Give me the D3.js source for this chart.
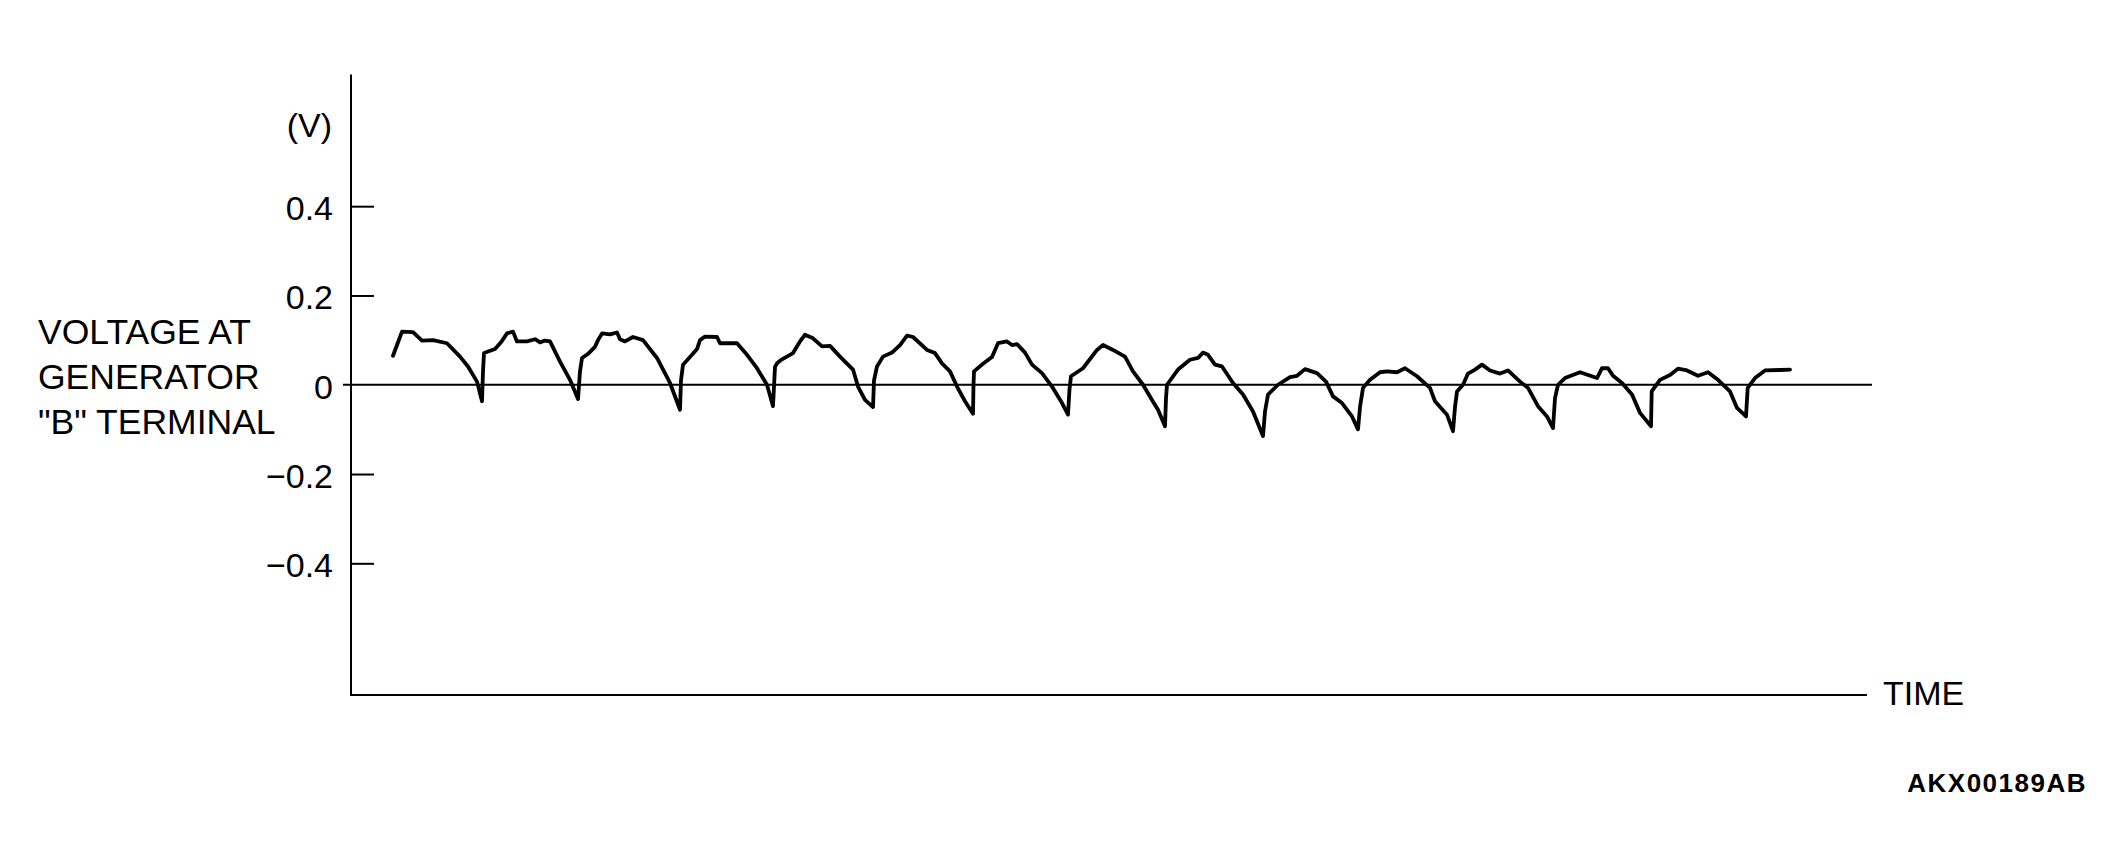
<!DOCTYPE html>
<html>
<head>
<meta charset="utf-8">
<script src="https://cdn.jsdelivr.net/npm/d3@7"></script>
<style>
  html, body { margin: 0; padding: 0; background: #fff; }
  svg { display: block; }
  text { font-family: "Liberation Sans", Arial, Helvetica, sans-serif; fill: #000; }
</style>
</head>
<body>
<svg id="chart" width="2124" height="867"></svg>
<script>
// ---- Data (time in arbitrary units, voltage in V) ----
const timeValues = [
  42,51,62,71,82,96,109,117,126,131,
  132,133,144,150,156,162,166,176,184,189,194,199,209,219,227,
  229,231,237,244,247,251,259,266,269,274,282,292,306,319,329,
  330,332,341,346,349,354,366,369,386,396,406,416,422,
  424,426,431,442,449,454,462,471,479,489,502,507,514,522,
  523,526,532,541,549,556,562,576,584,591,599,606,614,622,
  622.5,623,632,641,647,656,661,666,674,681,691,701,711,717,
  718.5,720,732,746,752,762,774,782,792,801,807,814,
  815,816,827,839,847,852,857,864,871,882,892,902,912,
  914,917,927,939,946,954,966,975,982,991,1001,1007,
  1009,1012,1019,1029,1036,1046,1054,1066,1079,1084,1096,1102,
  1104,1106,1112,1117,1124,1131,1139,1149,1157,1169,1177,1187,1196,1202,
  1204,1207,1214,1229,1246,1251,1257,1262,1271,1281,1289,1300,
  1300.7,1309,1319,1327,1336,1347,1357,1367,1379,1386,1395,
  1396.7,1404,1414,1429,1439
];
const voltageValues = [
  0.065,0.119,0.118,0.099,0.100,0.093,0.063,0.041,0.007,-0.037,
  0.030,0.071,0.080,0.095,0.115,0.119,0.097,0.097,0.102,0.095,0.099,0.097,0.052,0.011,-0.032,
  0.030,0.060,0.069,0.085,0.100,0.115,0.113,0.117,0.102,0.097,0.107,0.100,0.060,0.004,-0.056,
  0.010,0.045,0.067,0.080,0.100,0.108,0.107,0.093,0.093,0.067,0.037,0.000,-0.048,
  0.040,0.048,0.057,0.071,0.097,0.112,0.104,0.086,0.087,0.063,0.034,-0.004,-0.034,-0.050,
  0.010,0.041,0.063,0.072,0.089,0.110,0.107,0.078,0.071,0.048,0.030,-0.004,-0.037,-0.065,
  0.000,0.030,0.047,0.062,0.093,0.097,0.089,0.091,0.072,0.045,0.026,-0.004,-0.041,-0.067,
  -0.010,0.019,0.037,0.078,0.089,0.078,0.063,0.030,0.000,-0.034,-0.056,-0.093,
  -0.030,0.000,0.034,0.056,0.060,0.072,0.067,0.045,0.041,0.004,-0.022,-0.060,-0.115,
  -0.060,-0.022,0.000,0.017,0.020,0.035,0.026,0.007,-0.026,-0.041,-0.071,-0.100,
  -0.050,-0.007,0.011,0.028,0.030,0.028,0.037,0.019,-0.007,-0.037,-0.067,-0.104,
  -0.050,-0.015,0.000,0.025,0.034,0.045,0.032,0.025,0.032,0.007,-0.007,-0.048,-0.071,-0.097,
  -0.030,0.000,0.015,0.028,0.015,0.037,0.037,0.020,0.004,-0.022,-0.063,-0.093,
  -0.015,0.011,0.022,0.036,0.032,0.020,0.028,0.011,-0.015,-0.052,-0.071,
  -0.007,0.015,0.032,0.033,0.034
];
const tickValues = [0.4, 0.2, 0, -0.2, -0.4];
const tickLabels = ["0.4", "0.2", "0", "\u22120.2", "\u22120.4"];
const timeExtent = [0, 1516];
const voltageExtent = [-0.695, 0.695];
const yLabelLines = ["VOLTAGE AT", "GENERATOR", "\"B\" TERMINAL"];
const unitLabel = "(V)";
const xLabel = "TIME";
const figureCode = "AKX00189AB";

// ---- Layout ----
const svg = d3.select("#chart");
const x = d3.scaleLinear().domain(timeExtent).range([351, 1867]);
const y = d3.scaleLinear().domain(voltageExtent).range([695, 74.5]);

const points = timeValues.map((t, i) => ({ t, v: voltageValues[i] }));

// axis lines
svg.append("line")
  .attr("x1", x(timeExtent[0])).attr("x2", x(timeExtent[0]))
  .attr("y1", y(voltageExtent[1])).attr("y2", y(voltageExtent[0]))
  .attr("stroke", "#000").attr("stroke-width", 2);
svg.append("line")
  .attr("x1", x(timeExtent[0]) - 1).attr("x2", x(timeExtent[1]))
  .attr("y1", y(voltageExtent[0])).attr("y2", y(voltageExtent[0]))
  .attr("stroke", "#000").attr("stroke-width", 2);

// zero line
svg.append("line")
  .attr("x1", x(timeExtent[0]) - 8).attr("x2", x(timeExtent[1]) + 5)
  .attr("y1", y(0)).attr("y2", y(0))
  .attr("stroke", "#000").attr("stroke-width", 1.8);

// y axis ticks + labels
const yAxis = d3.axisRight(y)
  .tickValues(tickValues.filter(v => v !== 0))
  .tickSize(23)
  .tickFormat("");
const gy = svg.append("g")
  .attr("transform", `translate(${x(timeExtent[0])},0)`)
  .call(yAxis);
gy.select(".domain").remove();
gy.selectAll(".tick line").attr("stroke", "#000").attr("stroke-width", 2);

svg.append("g").selectAll("text")
  .data(tickValues)
  .join("text")
  .attr("x", 333)
  .attr("y", d => y(d) + 14)
  .attr("text-anchor", "end")
  .attr("font-size", 34)
  .text((d, i) => tickLabels[i]);

svg.append("text")
  .attr("x", 332)
  .attr("y", 137)
  .attr("text-anchor", "end")
  .attr("font-size", 34)
  .text(unitLabel);

// left label
svg.append("g").selectAll("text")
  .data(yLabelLines)
  .join("text")
  .attr("x", 38)
  .attr("y", (d, i) => 344 + i * 45)
  .attr("font-size", 35.5)
  .text(d => d);

// x label
svg.append("text")
  .attr("x", 1883)
  .attr("y", 705)
  .attr("font-size", 34)
  .text(xLabel);

// figure code
svg.append("text")
  .attr("x", 2087)
  .attr("y", 792)
  .attr("text-anchor", "end")
  .attr("font-size", 26)
  .attr("font-weight", "bold")
  .attr("letter-spacing", 1.5)
  .text(figureCode);

// waveform
const line = d3.line()
  .x(d => x(d.t))
  .y(d => y(d.v))
  .curve(d3.curveLinear);
svg.append("path")
  .datum(points)
  .attr("d", line)
  .attr("fill", "none")
  .attr("stroke", "#000")
  .attr("stroke-width", 3.8)
  .attr("stroke-linejoin", "round")
  .attr("stroke-linecap", "round");
</script>
</body>
</html>
